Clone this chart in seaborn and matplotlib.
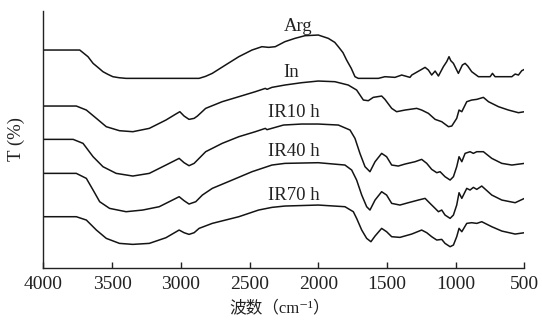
import pandas as pd
import seaborn as sns
import matplotlib.pyplot as plt

# wavenumber (cm-1) and offset transmittance (arbitrary units)
arg_wn = [4000, 3735, 3711, 3675, 3638, 3600, 3566, 3530, 3494, 3450,
          3398, 2867, 2820, 2771, 2675, 2578, 2482, 2410, 2361, 2313,
          2243, 2170, 2097, 2000, 1927, 1880, 1854, 1820, 1794, 1760,
          1733, 1709, 1563, 1515, 1442, 1393, 1333, 1320, 1248, 1223,
          1199, 1175, 1150, 1126, 1090, 1066, 1049, 1036, 1017, 981,
          952, 932, 913, 884, 835, 750, 733, 714, 592, 568,
          544, 520, 500]
arg_t = [653, 653, 645, 633, 613, 600, 588, 580, 573, 570,
         568, 568, 574, 583, 608, 633, 653, 663, 661, 663,
         678, 688, 696, 698, 688, 676, 663, 645, 623, 598,
         573, 568, 568, 573, 571, 578, 571, 578, 595, 601,
         593, 578, 590, 575, 603, 618, 633, 621, 613, 583,
         608, 613, 605, 588, 573, 573, 583, 573, 573, 581,
         578, 591, 595]

in_wn = [4000, 3760, 3687, 3614, 3542, 3446, 3349, 3229, 3108, 3036,
         3007, 2976, 2940, 2903, 2879, 2819, 2699, 2578, 2458, 2385,
         2373, 2337, 2243, 2121, 2000, 1879, 1782, 1721, 1672, 1636,
         1600, 1539, 1515, 1466, 1430, 1369, 1284, 1248, 1199, 1150,
         1102, 1053, 1029, 993, 976, 956, 920, 884, 847, 799,
         762, 689, 617, 544, 500]
in_t = [485, 485, 473, 448, 423, 411, 408, 418, 443, 461,
        468, 455, 445, 448, 455, 478, 498, 513, 528, 538,
        535, 541, 548, 555, 560, 558, 548, 533, 503, 501,
        511, 515, 505, 478, 468, 473, 478, 473, 463, 445,
        438, 423, 425, 448, 473, 468, 498, 503, 505, 511,
        498, 483, 473, 465, 468]

ir10_wn = [4000, 3783, 3711, 3638, 3566, 3470, 3349, 3229, 3108, 3012,
           2976, 2940, 2903, 2867, 2819, 2699, 2578, 2458, 2385, 2373,
           2253, 2121, 2000, 1854, 1769, 1733, 1697, 1660, 1624, 1587,
           1539, 1503, 1466, 1418, 1369, 1296, 1248, 1211, 1175, 1138,
           1114, 1078, 1041, 1017, 993, 976, 956, 932, 896, 872,
           847, 799, 738, 665, 592, 500]
ir10_t = [385, 385, 373, 333, 303, 283, 275, 283, 308, 328,
          315, 306, 313, 328, 348, 373, 393, 408, 418, 414,
          428, 431, 431, 428, 413, 388, 343, 303, 288, 318,
          343, 333, 308, 305, 311, 318, 325, 313, 295, 285,
          288, 273, 263, 273, 303, 333, 318, 343, 348, 343,
          348, 348, 328, 313, 308, 313]

ir40_wn = [4000, 3760, 3687, 3638, 3590, 3518, 3398, 3277, 3157, 3060,
           3012, 2976, 2940, 2891, 2843, 2771, 2626, 2482, 2337, 2243,
           2000, 1806, 1757, 1721, 1684, 1648, 1624, 1587, 1539, 1503,
           1466, 1406, 1345, 1272, 1223, 1187, 1150, 1126, 1102, 1078,
           1041, 1017, 993, 976, 956, 920, 896, 872, 847, 811,
           738, 665, 568, 500]
ir40_t = [283, 283, 268, 233, 198, 178, 168, 173, 183, 203,
          213, 201, 191, 198, 218, 238, 263, 288, 308, 313,
          315, 308, 293, 263, 218, 183, 173, 203, 228, 218,
          193, 188, 195, 203, 208, 193, 178, 168, 173, 158,
          148, 158, 188, 225, 208, 238, 233, 241, 235, 245,
          218, 203, 195, 208]

ir70_wn = [4000, 3760, 3687, 3614, 3542, 3446, 3349, 3229, 3108, 3012,
           2976, 2940, 2903, 2867, 2771, 2578, 2434, 2337, 2243, 2000,
           1806, 1745, 1721, 1684, 1648, 1617, 1587, 1539, 1503, 1466,
           1406, 1320, 1248, 1211, 1175, 1138, 1102, 1078, 1041, 1017,
           993, 976, 956, 920, 884, 847, 811, 738, 665, 568,
           500]
ir70_t = [153, 153, 143, 113, 88, 73, 70, 73, 90, 113,
          105, 100, 105, 118, 133, 153, 173, 181, 185, 188,
          183, 168, 148, 113, 88, 78, 95, 118, 108, 93,
          91, 101, 113, 105, 93, 83, 85, 73, 63, 68,
          93, 118, 108, 133, 135, 133, 138, 123, 110, 101,
          105]

samples = ['Arg', 'In', 'IR10 h', 'IR40 h', 'IR70 h']
label_wn = [2147, 2195, 2175, 2175, 2175]
label_t = [709, 573, 451, 334, 203]
xticks = [4000, 3500, 3000, 2500, 2000, 1500, 1000, 500]


def build_frame():
    wns = [arg_wn, in_wn, ir10_wn, ir40_wn, ir70_wn]
    ts = [arg_t, in_t, ir10_t, ir40_t, ir70_t]
    parts = []
    for name, wn, t in zip(samples, wns, ts):
        parts.append(pd.DataFrame({'wn': wn, 'T': t, 'sample': name}))
    return pd.concat(parts, ignore_index=True)


def main():
    sns.set_style('ticks')
    plt.rcParams['font.family'] = ['Liberation Serif', 'Noto Sans CJK SC',
                                   'DejaVu Sans']
    data = build_frame()

    fig = plt.figure(figsize=(5.42, 3.27), dpi=100)
    ax = fig.add_axes([0.0799, 0.1813, 0.8878, 0.786])
    sns.lineplot(data=data, x='wn', y='T', hue='sample', estimator=None,
                 sort=False, palette=['#141414'] * 5, legend=False,
                 linewidth=1.1, ax=ax)

    # curve names above each spectrum
    for name, x, y in zip(samples, label_wn, label_t):
        ax.text(x, y, name, ha='center', va='baseline', fontsize=13.5,
                color='#222222')

    ax.set_xlim(4000, 500)
    ax.set_ylim(0, 771)
    ax.set_xticks(xticks)
    ax.set_yticks([])
    ax.tick_params(axis='x', direction='in', length=4.3, width=1.0, pad=6,
                   labelsize=14, colors='#222222')
    sns.despine(ax=ax)
    for side in ['left', 'bottom']:
        ax.spines[side].set_linewidth(1.0)
        ax.spines[side].set_color('#222222')

    ax.set_xlabel('波数（cm⁻¹）', fontsize=12, color='#222222')
    ax.xaxis.set_label_coords(0.491, -0.128)
    ax.set_ylabel('T (%)', fontsize=13.5, color='#222222')
    ax.yaxis.set_label_coords(-0.038, 0.5)

    plt.savefig('out.png', dpi=100)


if __name__ == '__main__':
    main()
